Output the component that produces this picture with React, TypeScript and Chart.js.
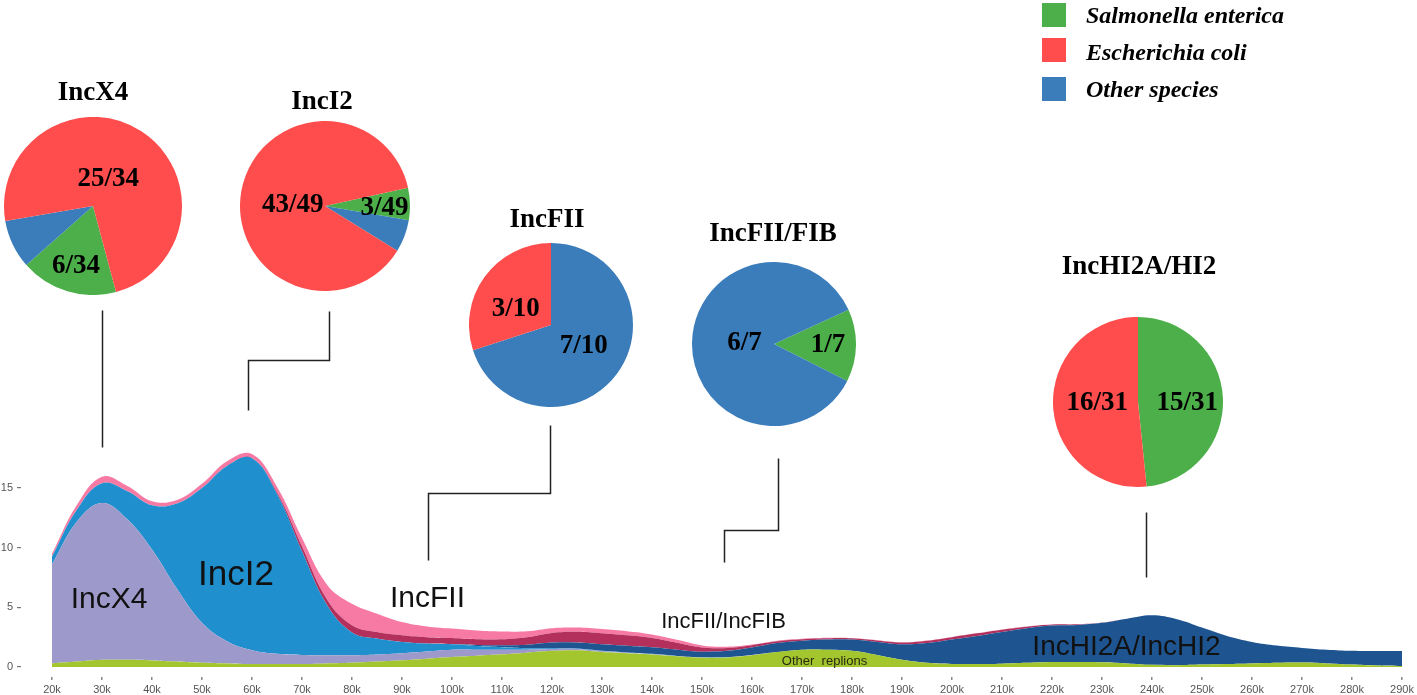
import { useEffect, useRef } from "react";
import { Chart, registerables } from "chart.js";
import type { ArcElement } from "chart.js";

Chart.register(...registerables);

const SERIF = '"Liberation Serif", "Times New Roman", serif';
const SANS = '"Liberation Sans", Arial, sans-serif';

// plasmid size (k bp), one column every 5k
const sizeK = [
  20, 25, 30, 35, 40, 45, 50, 55, 60, 65, 70, 75, 80, 85, 90, 95, 100, 105, 110,
  115, 120, 125, 130, 135, 140, 145, 150, 155, 160, 165, 170, 175, 180, 185, 190,
  195, 200, 205, 210, 215, 220, 225, 230, 235, 240, 245, 250, 255, 260, 265, 270,
  275, 280, 285, 290,
];

// stacked layers, bottom to top
const otherReplions = [
  0.3, 0.45, 0.6, 0.6, 0.55, 0.45, 0.35, 0.3, 0.25, 0.25, 0.25, 0.3, 0.35, 0.45,
  0.56, 0.7, 0.84, 0.95, 1.06, 1.2, 1.35, 1.4, 1.25, 1.15, 1.05, 0.9, 0.78, 0.8,
  0.98, 1.25, 1.45, 1.45, 1.35, 1.0, 0.6, 0.35, 0.25, 0.25, 0.28, 0.35, 0.42,
  0.42, 0.4, 0.3, 0.18, 0.15, 0.2, 0.25, 0.3, 0.35, 0.37, 0.3, 0.2, 0.12, 0.08,
];
const incX4 = [
  8.3, 11.75, 13.15, 11.8, 9.3, 6.1, 3.35, 1.85, 1.15, 0.85, 0.75, 0.68, 0.63,
  0.6, 0.6, 0.6, 0.61, 0.5, 0.39, 0.25, 0.15, 0.1, 0.07, 0.05, 0.03, 0.02, 0.02,
  0.02, 0.02, 0, 0, 0, 0, 0, 0, 0, 0, 0, 0, 0, 0, 0, 0, 0, 0, 0, 0, 0, 0, 0, 0,
  0, 0, 0, 0,
];
const incI2 = [
  0.65, 1.0, 1.65, 2.35, 3.7, 7.15, 11.3, 14.7, 16.1, 13.4, 8.7, 4.22, 1.92, 1.33,
  0.94, 0.66, 0.45, 0.3, 0.2, 0.12, 0.07, 0.05, 0.04, 0.02, 0.02, 0.01, 0.01,
  0.01, 0.01, 0, 0, 0, 0, 0, 0, 0, 0, 0, 0, 0, 0, 0, 0, 0, 0, 0, 0, 0, 0, 0, 0,
  0, 0, 0, 0,
];
const incHI2 = [
  0, 0, 0, 0, 0, 0, 0, 0, 0, 0, 0, 0, 0, 0, 0, 0, 0.02, 0.1, 0.17, 0.3, 0.48,
  0.5, 0.54, 0.56, 0.55, 0.52, 0.47, 0.52, 0.62, 0.75, 0.75, 0.85, 0.95, 1.1,
  1.3, 1.65, 2.05, 2.35, 2.65, 2.9, 3.05, 3.1, 3.3, 3.75, 4.15, 3.85, 3.1, 2.35,
  1.8, 1.45, 1.23, 1.15, 1.16, 1.22, 1.26,
];
const incFIIFIB = [
  0, 0, 0, 0, 0, 0, 0, 0, 0, 0.15, 0.4, 0.45, 0.6, 0.55, 0.56, 0.54, 0.5, 0.47,
  0.5, 0.62, 0.8, 0.9, 0.93, 0.87, 0.78, 0.58, 0.35, 0.25, 0.2, 0.15, 0.12, 0.1,
  0.1, 0.12, 0.15, 0.2, 0.2, 0.22, 0.2, 0.13, 0.09, 0.06, 0.03, 0, 0, 0, 0, 0, 0,
  0, 0, 0, 0, 0, 0,
];
const incFII = [
  0.25, 0.4, 0.55, 0.45, 0.35, 0.3, 0.35, 0.4, 0.35, 0.45, 0.7, 1.25, 1.8, 1.54,
  1.11, 0.9, 0.8, 0.73, 0.65, 0.5, 0.4, 0.35, 0.35, 0.35, 0.3, 0.25, 0.18, 0.1,
  0.05, 0.05, 0.04, 0.04, 0.03, 0.03, 0.03, 0.02, 0.02, 0.02, 0.02, 0.02, 0, 0,
  0, 0, 0, 0, 0, 0, 0, 0, 0, 0, 0, 0, 0,
];

const xTicks = [
  20, 30, 40, 50, 60, 70, 80, 90, 100, 110, 120, 130, 140, 150, 160, 170, 180,
  190, 200, 210, 220, 230, 240, 250, 260, 270, 280, 290,
];
const yTicks = [0, 5, 10, 15];

// pies: counts per replicon type
const pieNames = ["IncX4", "IncI2", "IncFII", "IncFII/FIB", "IncHI2A/HI2"];
const salmonellaCounts = [6, 3, 0, 1, 15];
const otherSpeciesCounts = [3, 3, 7, 6, 0];
const ecoliCounts = [25, 43, 3, 0, 16];

const SPECIES_COLORS = { salmonella: "#4daf4a", ecoli: "#ff4d4d", other: "#3a7dba" };

const layers = [
  { label: "Other replions", values: otherReplions, color: "#a3c62f" },
  { label: "IncX4", values: incX4, color: "#9e99cb" },
  { label: "IncI2", values: incI2, color: "#1f8fcd" },
  { label: "IncHI2A/IncHI2", values: incHI2, color: "#1e5591" },
  { label: "IncFII/IncFIB", values: incFIIFIB, color: "#b3305d" },
  { label: "IncFII", values: incFII, color: "#f77aa4" },
];

// annotations on the area plot, in axis units (k, count)
const areaLabels = [
  { text: "IncX4", k: 31.4, y: 4.92, size: 30 },
  { text: "IncI2", k: 56.8, y: 6.87, size: 35 },
  { text: "IncFII", k: 95.1, y: 5.05, size: 30 },
  { text: "IncFII/IncFIB", k: 154.3, y: 3.27, size: 22 },
  { text: "IncHI2A/IncHI2", k: 234.9, y: 1.0, size: 28 },
  { text: "Other  replions", k: 174.5, y: 0.17, size: 13 },
];
const connectors: [number, number][][] = [
  [[30, 18.4], [30, 29.9]],
  [[59.2, 21.5], [59.2, 25.7], [75.4, 25.7], [75.4, 29.8]],
  [[95.1, 9.0], [95.1, 14.6], [119.6, 14.6], [119.6, 20.3]],
  [[154.3, 8.8], [154.3, 11.5], [165.2, 11.5], [165.2, 17.5]],
  [[238.7, 7.5], [238.7, 13.0]],
];

// pie placement; data order is [Salmonella, Other, E. coli]
const pieLayout = [
  { cx: 93, cy: 206, r: 89, titleX: 93, titleBase: 101, rotation: 165, spots: [[2, 0.17, -0.3], [0, -0.19, 0.67]] },
  { cx: 325, cy: 206, r: 85, titleX: 322, titleBase: 110, rotation: 77.6, spots: [[2, -0.38, -0.01], [0, 0.7, 0.02]] },
  { cx: 551, cy: 325, r: 82, titleX: 547, titleBase: 228, rotation: 0, spots: [[2, -0.43, -0.2], [1, 0.4, 0.26]] },
  { cx: 774, cy: 344, r: 82, titleX: 773, titleBase: 242, rotation: 65.3, spots: [[1, -0.36, -0.01], [0, 0.66, 0.01]] },
  { cx: 1138, cy: 402, r: 85, titleX: 1139, titleBase: 275, rotation: 0, spots: [[2, -0.48, 0.01], [0, 0.58, 0.01]] },
];

const legendItems = [
  { text: "Salmonella enterica", color: SPECIES_COLORS.salmonella, top: 3, base: 23 },
  { text: "Escherichia coli", color: SPECIES_COLORS.ecoli, top: 38, base: 60 },
  { text: "Other species", color: SPECIES_COLORS.other, top: 77, base: 97 },
];

function AreaChart() {
  const chartRef = useRef<HTMLCanvasElement>(null);

  useEffect(() => {
    if (!chartRef.current) return;

    const chart = new Chart(chartRef.current, {
      type: "line",
      data: {
        datasets: layers.map((layer, i) => ({
          label: layer.label,
          data: sizeK.map((k, j) => ({ x: k, y: layer.values[j] })),
          backgroundColor: layer.color,
          borderWidth: 0,
          pointRadius: 0,
          fill: i === 0 ? "origin" : "-1",
          tension: 0.4,
        })),
      },
      options: {
        animation: false,
        responsive: true,
        maintainAspectRatio: false,
        events: [],
        layout: { padding: { top: 428, left: 0, right: 0, bottom: 0 } },
        plugins: {
          legend: { display: false },
          tooltip: { enabled: false },
        },
        scales: {
          x: {
            type: "linear",
            min: 13.8,
            max: 293,
            afterBuildTicks: (scale) => {
              scale.ticks = xTicks.map((value) => ({ value }));
            },
            afterFit: (scale) => {
              scale.height = 18;
            },
            border: { display: false },
            grid: { drawOnChartArea: false, tickLength: 3, color: "#888", lineWidth: 1.5 },
            ticks: {
              autoSkip: false,
              maxRotation: 0,
              padding: 3,
              color: "#555",
              font: { family: SANS, size: 11 },
              callback: (value) => `${value}k`,
            },
          },
          y: {
            stacked: true,
            min: -0.84,
            max: 20.03,
            afterBuildTicks: (scale) => {
              scale.ticks = yTicks.map((value) => ({ value }));
            },
            afterFit: (scale) => {
              scale.width = 21;
            },
            border: { display: false },
            grid: { drawOnChartArea: false, tickLength: 4, color: "#777", lineWidth: 1.2 },
            ticks: {
              padding: 4,
              color: "#555",
              font: { family: SANS, size: 11 },
            },
          },
        },
      },
      plugins: [
        {
          id: "connectorsAndLabels",
          afterDraw(c) {
            const { ctx } = c;
            const xs = c.scales.x;
            const ys = c.scales.y;
            ctx.save();
            ctx.strokeStyle = "#222";
            ctx.lineWidth = 1.5;
            connectors.forEach((path) => {
              ctx.beginPath();
              path.forEach(([k, v], i) => {
                const px = Math.round(xs.getPixelForValue(k)) + 0.5;
                const py = Math.round(ys.getPixelForValue(v)) + 0.5;
                if (i === 0) ctx.moveTo(px, py);
                else ctx.lineTo(px, py);
              });
              ctx.stroke();
            });
            ctx.textAlign = "center";
            ctx.textBaseline = "alphabetic";
            areaLabels.forEach((label) => {
              ctx.fillStyle = label.size < 16 ? "#2a2a10" : "#111";
              ctx.font = `${label.size}px ${SANS}`;
              ctx.fillText(label.text, xs.getPixelForValue(label.k), ys.getPixelForValue(label.y));
            });
            ctx.restore();
          },
        },
      ],
    });

    return () => chart.destroy();
  }, []);

  return (
    <div style={{ position: "absolute", left: 0, top: 0, width: 1417, height: 695 }}>
      <canvas ref={chartRef}></canvas>
    </div>
  );
}

function SpeciesPie({ index }: { index: number }) {
  const chartRef = useRef<HTMLCanvasElement>(null);
  const layout = pieLayout[index];

  useEffect(() => {
    if (!chartRef.current) return;
    const values = [salmonellaCounts[index], otherSpeciesCounts[index], ecoliCounts[index]];
    const total = values.reduce((a, b) => a + b, 0);

    const chart = new Chart(chartRef.current, {
      type: "pie",
      data: {
        labels: ["Salmonella enterica", "Other species", "Escherichia coli"],
        datasets: [
          {
            data: values,
            backgroundColor: [SPECIES_COLORS.salmonella, SPECIES_COLORS.other, SPECIES_COLORS.ecoli],
            borderWidth: 0,
          },
        ],
      },
      options: {
        animation: false,
        responsive: true,
        maintainAspectRatio: false,
        events: [],
        rotation: layout.rotation,
        layout: { padding: 0 },
        plugins: {
          legend: { display: false },
          tooltip: { enabled: false },
        },
      },
      plugins: [
        {
          id: "fractionLabels",
          afterDatasetsDraw(c) {
            const arc = c.getDatasetMeta(0).data[0] as unknown as ArcElement;
            const { x, y, outerRadius } = arc.getProps(["x", "y", "outerRadius"], true);
            const { ctx } = c;
            ctx.save();
            ctx.fillStyle = "#000";
            ctx.font = `bold 27px ${SERIF}`;
            ctx.textAlign = "center";
            ctx.textBaseline = "middle";
            layout.spots.forEach(([slice, dx, dy]) => {
              ctx.fillText(`${values[slice]}/${total}`, x + dx * outerRadius, y + dy * outerRadius);
            });
            ctx.restore();
          },
        },
      ],
    });

    return () => chart.destroy();
  }, [index, layout]);

  return (
    <>
      <div
        style={{
          position: "absolute",
          left: layout.titleX - 150,
          top: layout.titleBase - 22.6,
          width: 300,
          textAlign: "center",
          font: `bold 27px/27px ${SERIF}`,
          color: "#000",
          whiteSpace: "nowrap",
        }}
      >
        {pieNames[index]}
      </div>
      <div
        style={{
          position: "absolute",
          left: layout.cx - layout.r,
          top: layout.cy - layout.r,
          width: layout.r * 2,
          height: layout.r * 2,
        }}
      >
        <canvas ref={chartRef}></canvas>
      </div>
    </>
  );
}

export default function App() {
  return (
    <div
      style={{
        position: "fixed",
        left: 0,
        top: 0,
        width: 1417,
        height: 695,
        background: "#fff",
        overflow: "hidden",
      }}
    >
      <AreaChart />
      {pieNames.map((name, i) => (
        <SpeciesPie key={name} index={i} />
      ))}
      {legendItems.map((item) => (
        <div key={item.text}>
          <div
            style={{
              position: "absolute",
              left: 1042,
              top: item.top,
              width: 24,
              height: 24,
              background: item.color,
            }}
          />
          <div
            style={{
              position: "absolute",
              left: 1086,
              top: item.base - 20.1,
              font: `italic bold 24px/24px ${SERIF}`,
              color: "#000",
              whiteSpace: "nowrap",
            }}
          >
            {item.text}
          </div>
        </div>
      ))}
    </div>
  );
}
